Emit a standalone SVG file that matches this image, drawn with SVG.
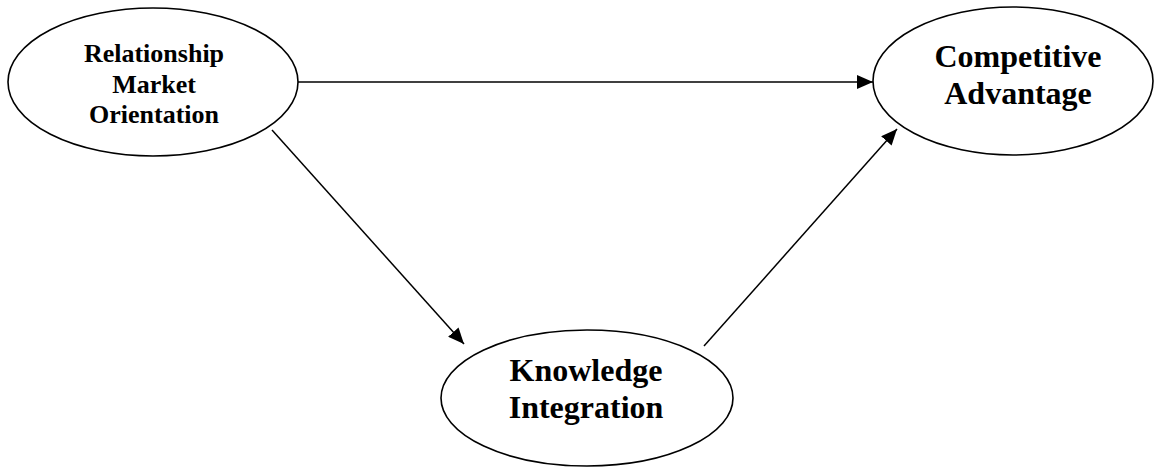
<svg xmlns="http://www.w3.org/2000/svg" width="1156" height="468" viewBox="0 0 1156 468">
<style>
.node ellipse{fill:#fff;stroke:#000;stroke-width:1.6}
.t{font-family:"Liberation Serif","Times New Roman",serif;font-weight:bold;fill:#000;text-anchor:middle}
.conn line{stroke:#000;stroke-width:1.5}
</style>
<defs>
<marker id="ah" markerUnits="userSpaceOnUse" markerWidth="16" markerHeight="14" refX="16" refY="7" orient="auto">
<path d="M0,0 L16,7 L0,14 Z" fill="#000"/>
</marker>
</defs>
<rect width="1156" height="468" fill="#fff"/>
<g id="rmo" class="node">
<ellipse cx="153" cy="82" rx="145" ry="74"/>
<text class="t" font-size="26" x="154" y="62">Relationship</text>
<text class="t" font-size="26" x="154" y="93">Market</text>
<text class="t" font-size="26" x="154" y="123">Orientation</text>
</g>
<g id="ca" class="node">
<ellipse cx="1013" cy="81" rx="140" ry="74"/>
<text class="t" font-size="32" x="1018" y="67">Competitive</text>
<text class="t" font-size="32" x="1018" y="104">Advantage</text>
</g>
<g id="ki" class="node">
<ellipse cx="587" cy="398" rx="146" ry="68"/>
<text class="t" font-size="32" x="586" y="381">Knowledge</text>
<text class="t" font-size="32" x="586" y="418">Integration</text>
</g>
<g id="connectors" class="conn">
<line x1="298" y1="82" x2="873" y2="82" marker-end="url(#ah)"/>
<line x1="272" y1="130" x2="464" y2="344" marker-end="url(#ah)"/>
<line x1="704" y1="346" x2="897" y2="129" marker-end="url(#ah)"/>
</g>
</svg>
